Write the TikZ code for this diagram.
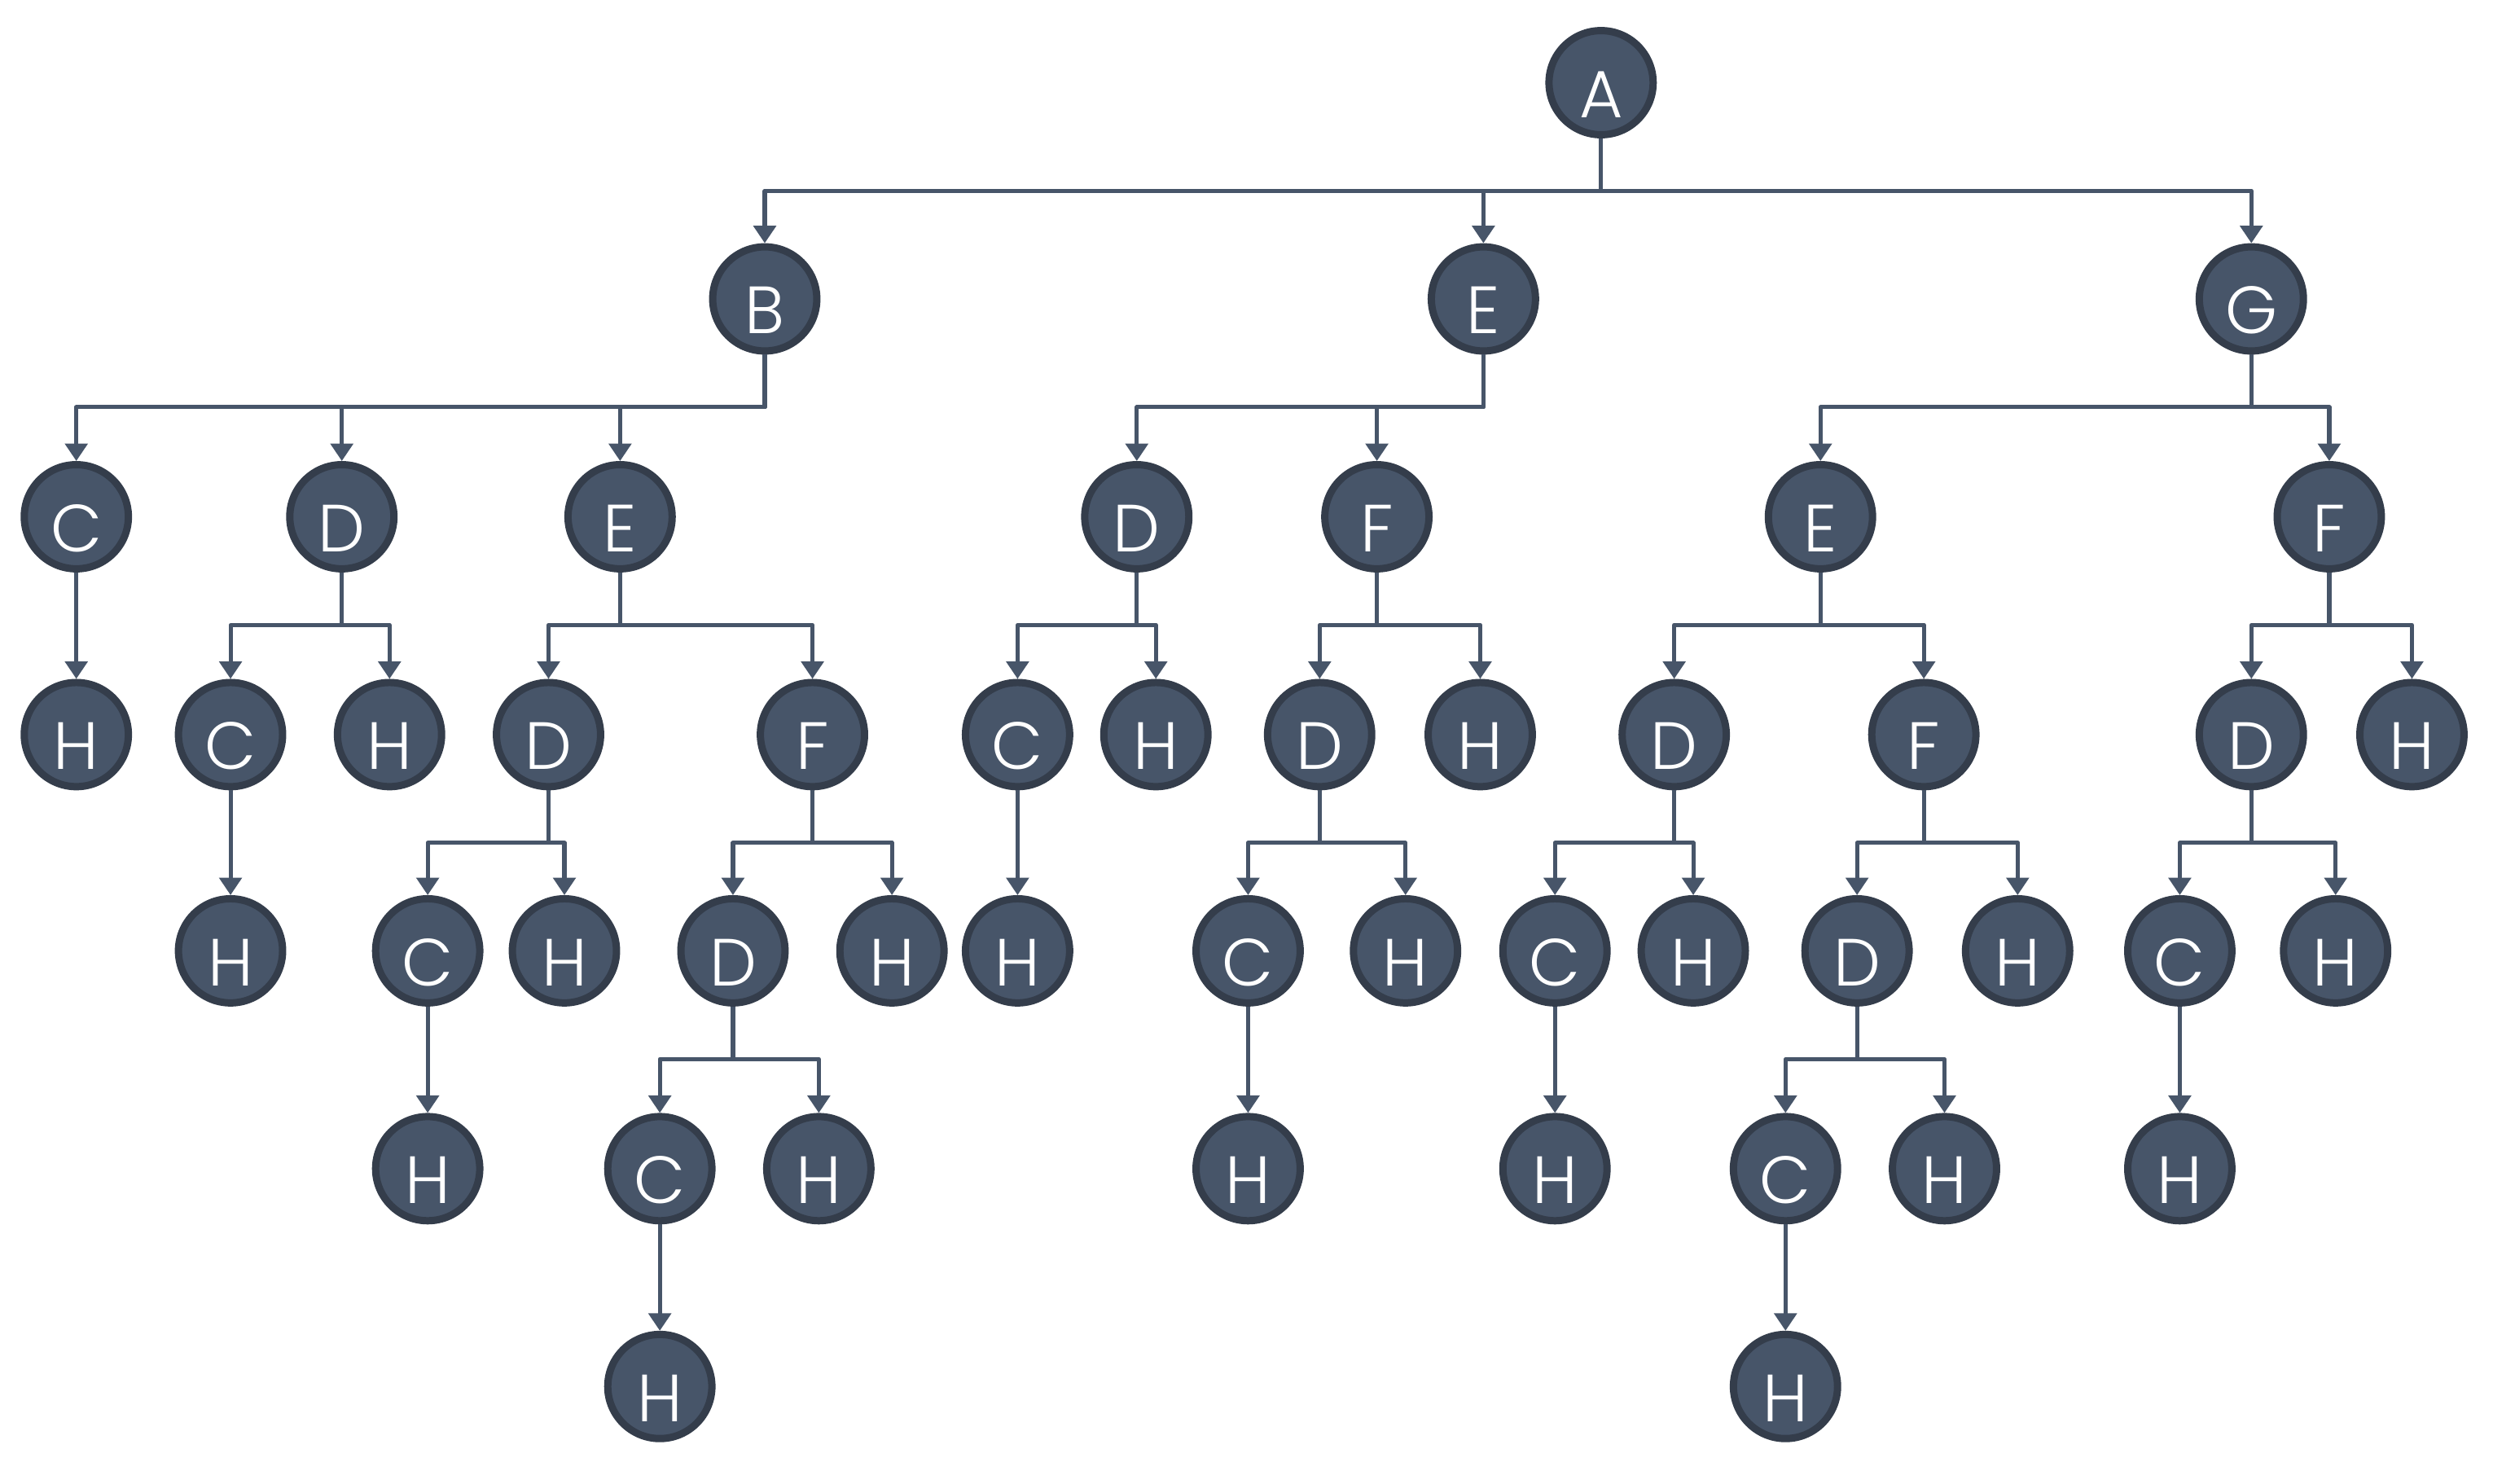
\documentclass[tikz,border=0pt]{standalone}
\usepackage{fontspec}
\setmainfont{Poppins}[UprightFont=* Light]
\usetikzlibrary{arrows.meta}
\definecolor{nodefill}{HTML}{475569}
\definecolor{nodeline}{HTML}{343D4B}
\definecolor{edgeline}{HTML}{475569}
\tikzset{
  vertex/.style={circle,fill=nodefill,draw=nodeline,line width=4.6pt,
    minimum size=65.5pt,inner sep=0pt,text=white,text height=44pt,
    text depth=0pt,font=\fontsize{42}{42}\selectfont},
  arr/.style={draw=edgeline,line width=2.6pt,line join=round,
    -{Triangle[length=11pt,width=14pt]}},
}
\newcommand{\bus}[2]{\draw[arr] (#1.south) -- ++(0,-33) -| (#2.north);}
\begin{document}
\begin{tikzpicture}[x=1pt,y=1pt]
\useasboundingbox (0,0) rectangle (1568,-933);
% level 0
\node[vertex] (a) at (1007,-52) {A};
% level 1
\node[vertex] (b) at (481,-188) {B};
\node[vertex] (e) at (933,-188) {E};
\node[vertex] (g) at (1416,-188) {G};
% level 2
\node[vertex] (bc) at (48,-325) {C};
\node[vertex] (bd) at (215,-325) {D};
\node[vertex] (be) at (390,-325) {E};
\node[vertex] (ed) at (715,-325) {D};
\node[vertex] (ef) at (866,-325) {F};
\node[vertex] (ge) at (1145,-325) {E};
\node[vertex] (gf) at (1465,-325) {F};
% level 3
\node[vertex] (bch) at (48,-462) {H};
\node[vertex] (bdc) at (145,-462) {C};
\node[vertex] (bdh) at (245,-462) {H};
\node[vertex] (bed) at (345,-462) {D};
\node[vertex] (bef) at (511,-462) {F};
\node[vertex] (edc) at (640,-462) {C};
\node[vertex] (edh) at (727,-462) {H};
\node[vertex] (efd) at (830,-462) {D};
\node[vertex] (efh) at (931,-462) {H};
\node[vertex] (ged) at (1053,-462) {D};
\node[vertex] (gef) at (1210,-462) {F};
\node[vertex] (gfd) at (1416,-462) {D};
\node[vertex] (gfh) at (1517,-462) {H};
% level 4
\node[vertex] (bdch) at (145,-598) {H};
\node[vertex] (bedc) at (269,-598) {C};
\node[vertex] (bedh) at (355,-598) {H};
\node[vertex] (befd) at (461,-598) {D};
\node[vertex] (befh) at (561,-598) {H};
\node[vertex] (edch) at (640,-598) {H};
\node[vertex] (efdc) at (785,-598) {C};
\node[vertex] (efdh) at (884,-598) {H};
\node[vertex] (gedc) at (978,-598) {C};
\node[vertex] (gedh) at (1065,-598) {H};
\node[vertex] (gefd) at (1168,-598) {D};
\node[vertex] (gefh) at (1269,-598) {H};
\node[vertex] (gfdc) at (1371,-598) {C};
\node[vertex] (gfdh) at (1469,-598) {H};
% level 5
\node[vertex] (bedch) at (269,-735) {H};
\node[vertex] (befdc) at (415,-735) {C};
\node[vertex] (befdh) at (515,-735) {H};
\node[vertex] (efdch) at (785,-735) {H};
\node[vertex] (gedch) at (978,-735) {H};
\node[vertex] (gefdc) at (1123,-735) {C};
\node[vertex] (gefdh) at (1223,-735) {H};
\node[vertex] (gfdch) at (1371,-735) {H};
% level 6
\node[vertex] (befdch) at (415,-872) {H};
\node[vertex] (gefdch) at (1123,-872) {H};
% branching edges
\foreach \p/\c in {a/b,a/e,a/g,b/bc,b/bd,b/be,e/ed,e/ef,g/ge,g/gf,
  bd/bdc,bd/bdh,be/bed,be/bef,ed/edc,ed/edh,ef/efd,ef/efh,
  ge/ged,ge/gef,gf/gfd,gf/gfh,bed/bedc,bed/bedh,bef/befd,bef/befh,
  efd/efdc,efd/efdh,ged/gedc,ged/gedh,gef/gefd,gef/gefh,
  gfd/gfdc,gfd/gfdh,befd/befdc,befd/befdh,gefd/gefdc,gefd/gefdh}
  {\bus{\p}{\c}}
% single edges
\foreach \p/\c in {bc/bch,bdc/bdch,edc/edch,bedc/bedch,efdc/efdch,
  gedc/gedch,gfdc/gfdch,befdc/befdch,gefdc/gefdch}
  {\draw[arr] (\p) -- (\c);}
\end{tikzpicture}
\end{document}
